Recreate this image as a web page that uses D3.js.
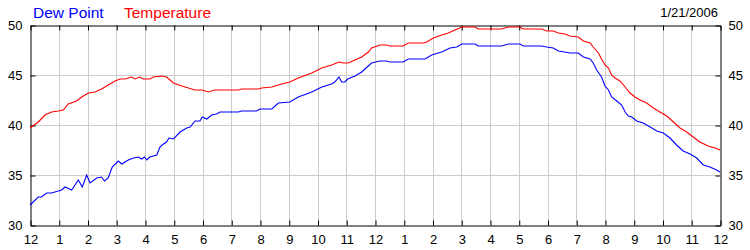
<!DOCTYPE html>
<html>
<head>
<meta charset="utf-8">
<script src="https://cdn.jsdelivr.net/npm/d3@7"></script>
<style>
  html, body { margin: 0; padding: 0; background: #fff; }
  svg { display: block; font-family: "Liberation Sans", Arial, sans-serif; }
</style>
</head>
<body>
<svg id="chart" width="750" height="250"></svg>
<script>
const hourLabels = ["12","1","2","3","4","5","6","7","8","9","10","11","12","1","2","3","4","5","6","7","8","9","10","11","12"];
const yTicks = [30, 35, 40, 45, 50];
const dateLabel = "1/21/2006";
const seriesNames = ["Dew Point", "Temperature"];
const seriesColors = ["#0000ff", "#ff0000"];

const tempHours = [0,0.29,0.52,0.75,0.99,1.16,1.33,1.62,1.80,2.03,2.26,2.49,2.72,2.96,3.13,3.30,3.54,3.65,3.82,3.94,4.17,4.29,4.58,4.75,4.99,5.28,5.51,5.74,5.98,6.2,6.43,7.25,7.36,7.94,8.06,8.41,8.75,9.04,9.33,9.80,10.15,10.49,10.75,10.90,11.07,11.30,11.54,11.77,11.88,12.17,12.41,12.52,12.98,13.16,13.68,13.80,14.03,14.32,14.55,14.78,15.02,15.48,15.59,16.40,16.64,17.04,17.16,17.8,17.97,18.2,18.38,18.6,18.78,19.07,19.25,19.48,19.59,19.77,19.88,20.0,20.12,20.23,20.35,20.52,20.70,20.87,21.04,21.22,21.45,21.68,21.91,22.15,22.38,22.61,22.84,23.07,23.30,23.59,23.83,24.0];
const tempValues = [39.7,40.3,41.0,41.3,41.4,41.5,42.1,42.4,42.8,43.2,43.3,43.6,44.0,44.4,44.6,44.6,44.8,44.6,44.8,44.6,44.6,44.8,44.9,44.8,44.2,43.9,43.7,43.5,43.5,43.3,43.5,43.5,43.6,43.6,43.7,43.8,44.1,44.3,44.7,45.2,45.7,46.0,46.3,46.2,46.2,46.5,46.8,47.3,47.7,48.0,48.0,47.9,47.9,48.2,48.2,48.3,48.7,49.0,49.2,49.5,49.8,49.8,49.6,49.6,49.8,49.8,49.6,49.6,49.4,49.4,49.2,49.1,48.9,48.8,48.4,48.2,47.8,47.2,46.6,46.0,45.7,45.0,44.7,44.4,43.8,43.2,42.8,42.5,42.2,41.7,41.3,40.9,40.3,39.7,39.3,38.8,38.3,37.9,37.7,37.5];

const dewHours = [0,0.29,0.4,0.58,0.75,0.99,1.1,1.22,1.45,1.68,1.82,1.97,2.09,2.32,2.49,2.59,2.72,2.86,3.07,3.19,3.42,3.6,3.77,3.88,3.98,4.06,4.17,4.41,4.52,4.64,4.75,4.83,4.99,5.22,5.45,5.57,5.74,5.91,5.99,6.15,6.32,6.49,6.61,7.25,7.36,7.88,8.0,8.41,8.64,9.04,9.33,9.80,10.15,10.49,10.6,10.75,10.84,10.95,11.05,11.30,11.54,11.65,11.88,12.17,12.41,12.52,12.98,13.16,13.74,13.97,14.32,14.61,14.84,15.02,15.48,15.59,16.40,16.64,17.04,17.16,17.8,17.97,18.2,18.38,18.6,18.78,19.07,19.25,19.48,19.59,19.71,19.88,20.0,20.12,20.23,20.41,20.58,20.70,20.81,20.93,21.10,21.33,21.57,21.80,22.03,22.26,22.49,22.72,22.96,23.19,23.42,23.65,23.88,24.0];
const dewValues = [32.0,32.8,32.8,33.2,33.2,33.4,33.5,33.8,33.5,34.5,33.8,35.0,34.2,34.7,34.8,34.4,34.7,35.8,36.4,36.1,36.5,36.7,36.8,36.6,36.8,36.5,36.8,37.0,37.8,38.1,38.3,38.7,38.6,39.3,39.7,39.8,40.4,40.4,40.8,40.6,41.0,41.1,41.3,41.3,41.4,41.4,41.6,41.6,42.2,42.3,42.8,43.3,43.8,44.1,44.3,44.8,44.3,44.3,44.6,44.9,45.3,45.6,46.2,46.4,46.4,46.3,46.3,46.6,46.6,47.0,47.3,47.7,47.8,48.1,48.1,47.9,47.9,48.1,48.1,47.9,47.9,47.8,47.7,47.4,47.3,47.2,47.2,46.8,46.6,46.2,45.5,44.8,43.9,43.5,42.8,42.4,42.0,41.3,40.9,40.8,40.4,40.2,39.8,39.4,39.2,38.7,38.0,37.4,37.1,36.7,36.0,35.8,35.5,35.3];

const svg = d3.select("#chart");
const L = 30, R = 720, T = 25, B = 225;
const x = d3.scaleLinear().domain([0, 24]).range([L, R]);
const y = d3.scaleLinear().domain([30, 50]).range([B, T]);
const hourTicks = d3.range(0, 25);
const fmtHour = (d) => hourLabels[d];

// grid
const grid = svg.append("g").attr("stroke", "#cccccc").attr("stroke-width", 1);
grid.selectAll("line.v").data(hourTicks.slice(1, -1)).join("line")
  .attr("x1", d => Math.round(x(d)) + 0.5).attr("x2", d => Math.round(x(d)) + 0.5)
  .attr("y1", T).attr("y2", B);
grid.selectAll("line.h").data(yTicks.slice(1, -1)).join("line")
  .attr("x1", L).attr("x2", R)
  .attr("y1", d => y(d) + 0.5).attr("y2", d => y(d) + 0.5);

// axes
function styleAxis(g) {
  g.selectAll("path.domain").attr("stroke", "#000");
  g.selectAll(".tick line").attr("stroke", "#000");
  g.selectAll("text").attr("fill", "#000").attr("font-size", "13px")
    .attr("font-family", '"Liberation Sans", Arial, sans-serif');
}
const xBottom = d3.axisBottom(x).tickValues(hourTicks).tickFormat(fmtHour).tickSizeInner(-5).tickSizeOuter(0).tickPadding(9);
svg.append("g").attr("transform", `translate(0.5,${B + 0.5})`).call(xBottom).call(styleAxis);
const xTop = d3.axisTop(x).tickValues(hourTicks).tickFormat("").tickSizeInner(-5).tickSizeOuter(0);
svg.append("g").attr("transform", `translate(0.5,${T + 0.5})`).call(xTop).call(styleAxis);
const yLeft = d3.axisLeft(y).tickValues(yTicks).tickFormat(d3.format("d")).tickSizeInner(-5).tickSizeOuter(0).tickPadding(8);
svg.append("g").attr("transform", `translate(${L + 0.5},0.5)`).call(yLeft).call(styleAxis);
const yRight = d3.axisRight(y).tickValues(yTicks).tickFormat(d3.format("d")).tickSizeInner(-5).tickSizeOuter(0).tickPadding(8);
svg.append("g").attr("transform", `translate(${R + 0.5},0.5)`).call(yRight).call(styleAxis);

// lines
const line = d3.line().x(d => x(d[0])).y(d => y(d[1]));
svg.append("path").datum(d3.zip(tempHours, tempValues))
  .attr("fill", "none").attr("stroke", seriesColors[1]).attr("stroke-width", 1.1).attr("d", line);
svg.append("path").datum(d3.zip(dewHours, dewValues))
  .attr("fill", "none").attr("stroke", seriesColors[0]).attr("stroke-width", 1.1).attr("d", line);

// legend
const legX = [33, 124];
svg.selectAll("text.legend").data(seriesNames).join("text")
  .attr("class", "legend")
  .attr("x", (d, i) => legX[i]).attr("y", 18)
  .attr("fill", (d, i) => seriesColors[i])
  .attr("font-size", "15.5px")
  .text(d => d);

svg.append("text").attr("x", 718).attr("y", 17).attr("text-anchor", "end")
  .attr("font-size", "13px").attr("fill", "#000").text(dateLabel);
</script>
</body>
</html>
